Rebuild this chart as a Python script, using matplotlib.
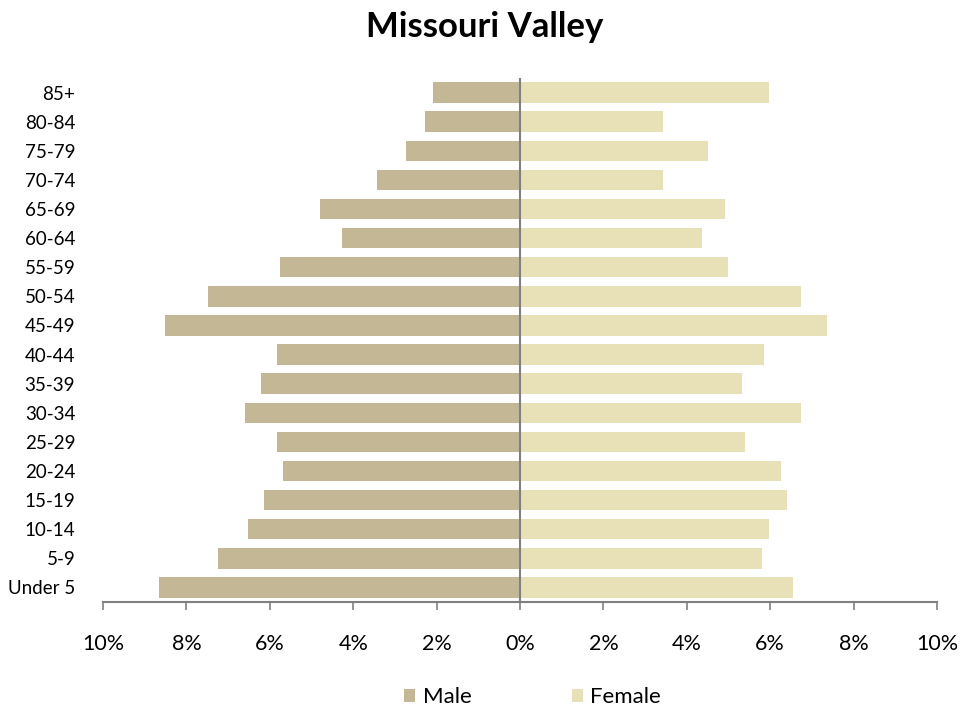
import numpy as np
import matplotlib
matplotlib.use('Agg')
import matplotlib.pyplot as plt
import matplotlib.ticker as ticker

# Age groups, bottom to top
ages = ['Under 5', '5-9', '10-14', '15-19', '20-24', '25-29', '30-34', '35-39',
        '40-44', '45-49', '50-54', '55-59', '60-64', '65-69', '70-74', '75-79',
        '80-84', '85+']
# percent of population
male = [8.66, 7.24, 6.52, 6.14, 5.68, 5.83, 6.59, 6.21, 5.83, 8.51, 7.48,
        5.76, 4.27, 4.80, 3.43, 2.73, 2.28, 2.09]
female = [6.55, 5.80, 5.97, 6.40, 6.26, 5.40, 6.74, 5.32, 5.85, 7.36, 6.74,
          4.99, 4.36, 4.92, 3.43, 4.51, 3.43, 5.97]
xticks = [-10, -8, -6, -4, -2, 0, 2, 4, 6, 8, 10]

plt.rcParams['font.family'] = ['Lato', 'DejaVu Sans']

fig = plt.figure(figsize=(9.79, 7.13), dpi=100)
ax = fig.add_axes([0.1052, 0.1557, 0.8519, 0.7349])

y = np.arange(len(ages))
ax.barh(y, -np.array(male), height=0.7, color='#c4b796', label='Male')
ax.barh(y, female, height=0.7, color='#e8e0b7', label='Female')
ax.axvline(0, color='#808080', linewidth=1.5)

ax.set_xlim(-10, 10)
ax.set_ylim(-0.5, len(ages) - 0.5)
ax.set_yticks(y)
ax.set_yticklabels(ages, fontsize=13.5)
ax.tick_params(axis='y', length=0, pad=20)
ax.set_xticks(xticks)
ax.xaxis.set_major_formatter(ticker.FuncFormatter(lambda v, p: '%d%%' % abs(v)))
ax.tick_params(axis='x', length=6, width=1.2, color='#808080', labelsize=15.5, pad=17)

for s in ['top', 'right', 'left']:
    ax.spines[s].set_visible(False)
ax.spines['bottom'].set_color('#808080')
ax.spines['bottom'].set_linewidth(1.5)

fig.text(0.495, 0.962, 'Missouri Valley', fontsize=25, fontweight='bold',
         ha='center', va='center')

ax.legend(loc='upper center', bbox_to_anchor=(0.515, -0.125), ncol=2, frameon=False,
          fontsize=16, handlelength=0.5, handleheight=0.5, columnspacing=4.5,
          handletextpad=0.35)

plt.savefig('out.png', dpi=100)
